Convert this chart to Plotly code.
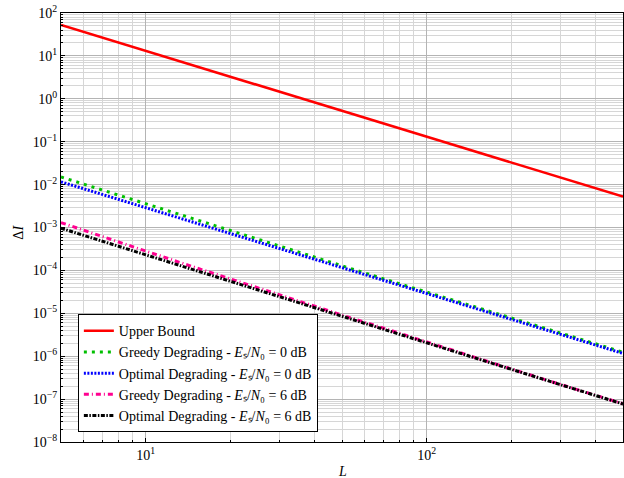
import plotly.graph_objects as go

L_vals = [5, 7, 10, 15, 20, 30, 50, 70, 100, 150, 200, 300, 500]
upper_bound = [52.5, 26.8, 13.1, 5.83, 3.28, 1.46, 0.525, 0.268, 0.131, 0.0583, 0.0328, 0.0146, 0.00525]
greedy_0db = [0.0151, 7.5e-3, 3.54e-3, 1.51e-3, 8.3e-4, 3.6e-4, 1.28e-4, 6.4e-5, 3.13e-5, 1.37e-5, 7.7e-6, 3.4e-6, 1.24e-6]
optimal_0db = [0.0116, 5.92e-3, 2.9e-3, 1.29e-3, 7.25e-4, 3.22e-4, 1.16e-4, 5.92e-5, 2.9e-5, 1.29e-5, 7.25e-6, 3.22e-6, 1.16e-6]
greedy_6db = [1.3e-3, 6.1e-4, 2.83e-4, 1.17e-4, 6.3e-5, 2.67e-5, 9.1e-6, 4.55e-6, 2.13e-6, 9.2e-7, 5.05e-7, 2.19e-7, 7.8e-8]
optimal_6db = [9.6e-4, 4.8e-4, 2.32e-4, 1.01e-4, 5.6e-5, 2.45e-5, 8.5e-6, 4.3e-6, 2.05e-6, 8.9e-7, 4.95e-7, 2.16e-7, 7.7e-8]

y_tick_vals = [1e-8, 1e-7, 1e-6, 1e-5, 1e-4, 1e-3, 1e-2, 1e-1, 1e0, 1e1, 1e2]
y_tick_text = ["10<sup>−8</sup>", "10<sup>−7</sup>", "10<sup>−6</sup>", "10<sup>−5</sup>", "10<sup>−4</sup>",
               "10<sup>−3</sup>", "10<sup>−2</sup>", "10<sup>−1</sup>", "10<sup>0</sup>", "10<sup>1</sup>", "10<sup>2</sup>"]
x_tick_vals = [10, 100]
x_tick_text = ["10<sup>1</sup>", "10<sup>2</sup>"]

es = "<i>E</i>ₛ/<i>N</i>₀"
names = ["Upper Bound",
         f"Greedy Degrading - {es} = 0 dB",
         f"Optimal Degrading - {es} = 0 dB",
         f"Greedy Degrading - {es} = 6 dB",
         f"Optimal Degrading - {es} = 6 dB"]

FONT = "Times New Roman, Liberation Serif, serif"
fig = go.Figure()
fig.add_trace(go.Scatter(x=L_vals, y=upper_bound, mode="lines", name=names[0],
                         line=dict(color="#ff0000", width=2.6)))
fig.add_trace(go.Scatter(x=L_vals, y=greedy_0db, mode="lines", name=names[1],
                         line=dict(color="#00bf00", width=3, dash="3px,5px")))
fig.add_trace(go.Scatter(x=L_vals, y=optimal_0db, mode="lines", name=names[2],
                         line=dict(color="#0000ff", width=3, dash="2px,1.5px")))
fig.add_trace(go.Scatter(x=L_vals, y=greedy_6db, mode="lines", name=names[3],
                         line=dict(color="#ff0090", width=3, dash="5px,3px,1px,3px")))
fig.add_trace(go.Scatter(x=L_vals, y=optimal_6db, mode="lines", name=names[4],
                         line=dict(color="#000000", width=3, dash="4px,1.5px,1.5px,1.5px")))

axis_common = dict(
    showline=True, linecolor="#000000", linewidth=1.2, mirror=True,
    showgrid=True, gridcolor="#b4b4b4", gridwidth=1,
    ticks="inside", ticklen=4, tickcolor="#000000",
    tickfont=dict(family=FONT, size=14, color="#000000"),
    zeroline=False, automargin=False,
    minor=dict(showgrid=True, gridcolor="#d6d6d6", gridwidth=1, ticks="inside", ticklen=2, tickcolor="#000000"),
)

fig.update_xaxes(type="log", range=[0.69897, 2.69897], tickvals=x_tick_vals, ticktext=x_tick_text,
                 **axis_common)
fig.update_yaxes(type="log", range=[-8, 2], tickvals=y_tick_vals, ticktext=y_tick_text,
                 **axis_common)
fig.update_xaxes(minor=dict(dtick="D1"))
fig.update_yaxes(minor=dict(dtick="D1"))

fig.add_annotation(text="<i>L</i>", xref="paper", yref="paper", x=0.5, y=-0.068,
                   xanchor="center", yanchor="middle", showarrow=False,
                   font=dict(family=FONT, size=14, color="#000000"))
fig.add_annotation(text="Δ<i>I</i>", xref="paper", yref="paper", x=-0.075, y=0.49,
                   xanchor="center", yanchor="middle", showarrow=False, textangle=-90,
                   font=dict(family=FONT, size=14, color="#000000"))

fig.update_layout(
    width=624, height=478,
    margin=dict(l=61, r=1, t=13, b=36),
    plot_bgcolor="#ffffff", paper_bgcolor="#ffffff",
    font=dict(family=FONT, size=13, color="#000000"),
    legend=dict(x=0.03, y=0.023, xanchor="left", yanchor="bottom",
                bgcolor="#ffffff", bordercolor="#000000", borderwidth=1,
                font=dict(family=FONT, size=14, color="#000000"),
                tracegroupgap=0, itemwidth=30),
    showlegend=True,
)

fig.write_html("out.html", config={"displayModeBar": False},
               post_script="document.body.style.margin='0';document.body.style.overflow='hidden';")
